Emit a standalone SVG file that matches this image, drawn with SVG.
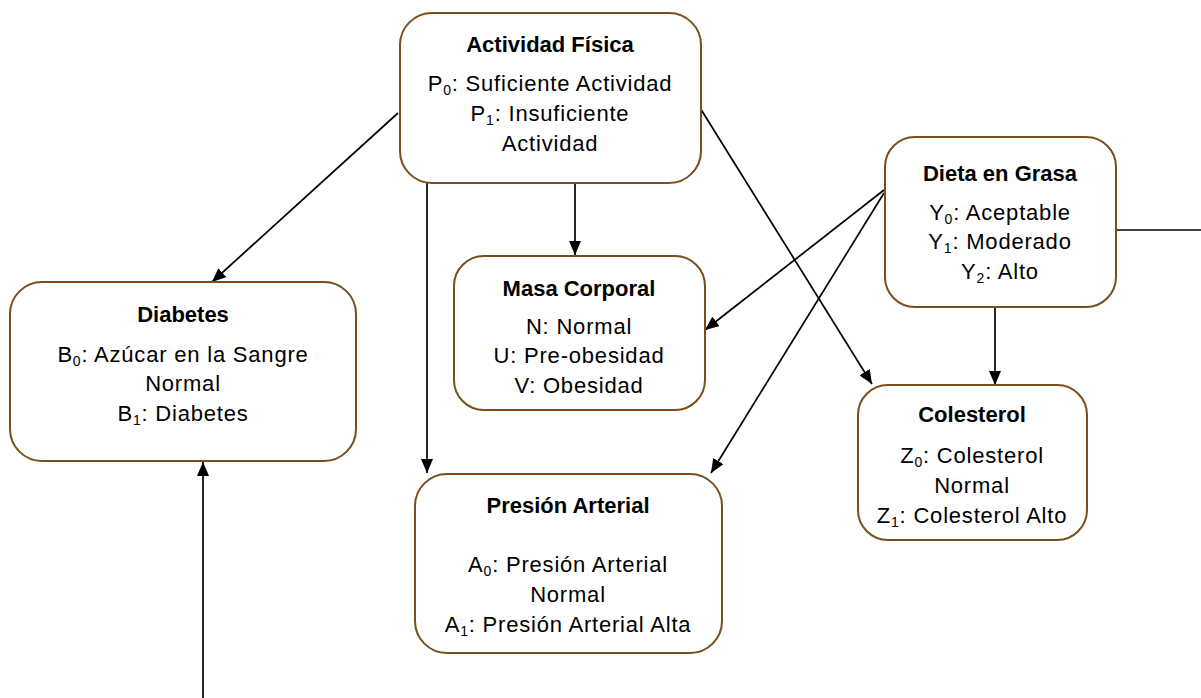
<svg xmlns="http://www.w3.org/2000/svg" width="1201" height="698" viewBox="0 0 1201 698">
<defs>
<marker id="ah" viewBox="0 0 14 12" refX="14" refY="6" markerWidth="14" markerHeight="12" markerUnits="userSpaceOnUse" orient="auto">
<path d="M0,0 L14,6 L0,12 Z" fill="#000"/>
</marker>
<style>
.box{fill:#fff;stroke:#7a4e1e;stroke-width:2}
.t{font-family:"Liberation Sans",Arial,sans-serif;font-size:22px;fill:#000;text-anchor:middle;letter-spacing:0.8px}
.h{font-weight:bold;letter-spacing:0}
.s{font-size:14px}
.c{stroke:#000;stroke-width:1.7;fill:none}
.a{marker-end:url(#ah)}
</style>
</defs>
<rect width="1201" height="698" fill="#fff"/>
<g id="connectors">
<line class="c a" x1="398" y1="113" x2="212" y2="282"/>
<line class="c a" x1="427" y1="180" x2="427" y2="473"/>
<line class="c a" x1="575" y1="180" x2="575" y2="255"/>
<line class="c a" x1="697" y1="103" x2="872" y2="384"/>
<line class="c a" x1="884" y1="190" x2="705" y2="330"/>
<line class="c a" x1="884" y1="193" x2="711" y2="473"/>
<line class="c a" x1="995" y1="307" x2="995" y2="385"/>
<line class="c" x1="1116" y1="230" x2="1201" y2="230"/>
<line class="c a" x1="203" y1="698" x2="203" y2="462"/>
</g>
<g id="actividad">
<rect class="box" x="400" y="13" width="301" height="170" rx="32"/>
<text class="t h" x="550" y="52">Actividad Física</text>
<text class="t" x="550" y="91">P<tspan class="s" dy="4">0</tspan><tspan dy="-4">: Suficiente Actividad</tspan></text>
<text class="t" x="550" y="121">P<tspan class="s" dy="4">1</tspan><tspan dy="-4">: Insuficiente</tspan></text>
<text class="t" x="550" y="151">Actividad</text>
</g>
<g id="diabetes">
<rect class="box" x="10" y="282" width="346" height="179" rx="32"/>
<text class="t h" x="183" y="322">Diabetes</text>
<text class="t" x="183" y="362">B<tspan class="s" dy="4">0</tspan><tspan dy="-4">: Azúcar en la Sangre</tspan></text>
<text class="t" x="183" y="391">Normal</text>
<text class="t" x="183" y="421">B<tspan class="s" dy="4">1</tspan><tspan dy="-4">: Diabetes</tspan></text>
</g>
<g id="masa">
<rect class="box" x="454" y="256" width="251" height="154" rx="30"/>
<text class="t h" x="579" y="296">Masa Corporal</text>
<text class="t" x="579" y="334">N: Normal</text>
<text class="t" x="579" y="363">U: Pre-obesidad</text>
<text class="t" x="579" y="393">V: Obesidad</text>
</g>
<g id="dieta">
<rect class="box" x="885" y="137" width="231" height="170" rx="30"/>
<text class="t h" x="1000" y="181">Dieta en Grasa</text>
<text class="t" x="1000" y="220">Y<tspan class="s" dy="4">0</tspan><tspan dy="-4">: Aceptable</tspan></text>
<text class="t" x="1000" y="249">Y<tspan class="s" dy="4">1</tspan><tspan dy="-4">: Moderado</tspan></text>
<text class="t" x="1000" y="279">Y<tspan class="s" dy="4">2</tspan><tspan dy="-4">: Alto</tspan></text>
</g>
<g id="colesterol">
<rect class="box" x="858" y="385" width="229" height="155" rx="30"/>
<text class="t h" x="972" y="422">Colesterol</text>
<text class="t" x="972" y="463">Z<tspan class="s" dy="4">0</tspan><tspan dy="-4">: Colesterol</tspan></text>
<text class="t" x="972" y="493">Normal</text>
<text class="t" x="972" y="523">Z<tspan class="s" dy="4">1</tspan><tspan dy="-4">: Colesterol Alto</tspan></text>
</g>
<g id="presion">
<rect class="box" x="415" y="474" width="307" height="179" rx="32"/>
<text class="t h" x="568" y="513">Presión Arterial</text>
<text class="t" x="568" y="572">A<tspan class="s" dy="4">0</tspan><tspan dy="-4">: Presión Arterial</tspan></text>
<text class="t" x="568" y="602">Normal</text>
<text class="t" x="568" y="632">A<tspan class="s" dy="4">1</tspan><tspan dy="-4">: Presión Arterial Alta</tspan></text>
</g>
</svg>
